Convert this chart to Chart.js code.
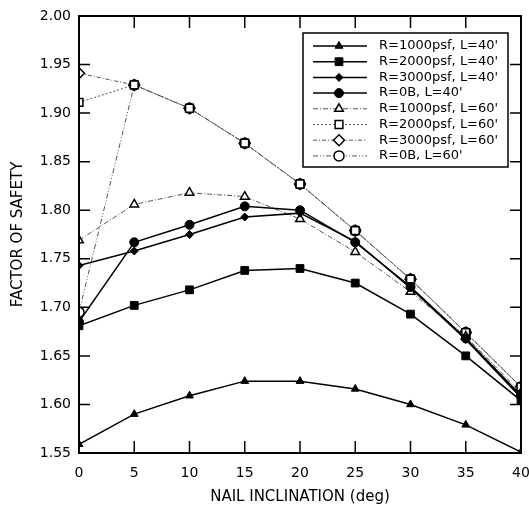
<!DOCTYPE html>
<html>
<head>
<meta charset="utf-8">
<script src="https://cdn.jsdelivr.net/npm/chart.js@4/dist/chart.umd.min.js"></script>
<style>
  html, body { margin: 0; padding: 0; background: #fff; }
  #wrap { width: 529px; height: 509px; position: relative; }
</style>
</head>
<body>
<div id="wrap"><canvas id="chartFS"></canvas></div>
<script>
// Nail inclination (deg) on x, factor of safety on y
const inclination = [0, 5, 10, 15, 20, 25, 30, 35, 40];
const yTicks = [1.55, 1.60, 1.65, 1.70, 1.75, 1.80, 1.85, 1.90, 1.95, 2.00];

const r1000L40 = [1.559, 1.590, 1.609, 1.624, 1.624, 1.616, 1.600, 1.579, 1.551];
const r2000L40 = [1.681, 1.702, 1.718, 1.738, 1.740, 1.725, 1.693, 1.650, 1.604];
const r3000L40 = [1.743, 1.758, 1.775, 1.793, 1.797, 1.768, 1.720, 1.667, 1.607];
const r0BL40   = [1.685, 1.767, 1.785, 1.804, 1.800, 1.767, 1.721, 1.668, 1.609];
const r1000L60 = [1.769, 1.806, 1.818, 1.814, 1.791, 1.757, 1.716, 1.670, 1.612];
const r2000L60 = [1.911, 1.929, 1.905, 1.869, 1.827, 1.779, 1.729, 1.674, 1.618];
const r3000L60 = [1.941, 1.929, 1.905, 1.869, 1.827, 1.779, 1.729, 1.674, 1.618];
const r0BL60   = [1.695, 1.929, 1.905, 1.869, 1.827, 1.779, 1.729, 1.674, 1.618];

const seriesLabels = [
    "R=1000psf, L=40'", "R=2000psf, L=40'", "R=3000psf, L=40'", "R=0B, L=40'",
    "R=1000psf, L=60'", "R=2000psf, L=60'", "R=3000psf, L=60'", "R=0B, L=60'"
];

const FONT = "'DejaVu Sans', sans-serif";

const toXY = vals => vals.map((v, i) => ({ x: inclination[i], y: v }));

function solid(label, vals, style, radius) {
    return {
        label: label, data: toXY(vals),
        borderColor: '#000', borderWidth: 1.5,
        pointStyle: style, pointRadius: radius,
        pointBackgroundColor: '#000', pointBorderColor: '#000', pointBorderWidth: 1,
        tension: 0
    };
}
function dashed(label, vals, style, radius, dash) {
    return {
        label: label, data: toXY(vals),
        borderColor: '#555', borderWidth: 1, borderDash: dash,
        pointStyle: style, pointRadius: radius,
        pointBackgroundColor: '#fff', pointBorderColor: '#000', pointBorderWidth: 1.5,
        tension: 0
    };
}

const datasets = [
    solid(seriesLabels[0], r1000L40, 'triangle', 4.5),
    solid(seriesLabels[1], r2000L40, 'rect', 5.5),
    solid(seriesLabels[2], r3000L40, 'rectRot', 4),
    solid(seriesLabels[3], r0BL40, 'circle', 4.5),
    dashed(seriesLabels[4], r1000L60, 'triangle', 5, [5, 2, 1, 2]),
    dashed(seriesLabels[5], r2000L60, 'rect', 5.5, [2, 2]),
    dashed(seriesLabels[6], r3000L60, 'rectRot', 5.5, [4, 2, 1, 2]),
    dashed(seriesLabels[7], r0BL60, 'circle', 5, [5, 2, 1, 2, 1, 2])
];

// frame + inward tick marks on all four sides
const framePlugin = {
    id: 'frame',
    afterDatasetsDraw(chart) {
        const { ctx, chartArea: a, scales } = chart;
        ctx.save();
        ctx.strokeStyle = '#000';
        ctx.lineWidth = 2;
        ctx.strokeRect(a.left, a.top, a.right - a.left, a.bottom - a.top);
        ctx.lineWidth = 1.5;
        ctx.beginPath();
        yTicks.forEach(v => {
            const y = scales.y.getPixelForValue(v);
            ctx.moveTo(a.left, y); ctx.lineTo(a.left + 11, y);
            ctx.moveTo(a.right, y); ctx.lineTo(a.right - 11, y);
        });
        inclination.forEach(v => {
            const x = scales.x.getPixelForValue(v);
            ctx.moveTo(x, a.bottom); ctx.lineTo(x, a.bottom - 12);
            ctx.moveTo(x, a.top); ctx.lineTo(x, a.top + 12);
        });
        ctx.stroke();
        ctx.restore();
    }
};

// legend box with line sample + marker, drawn inside the plot
const legendPlugin = {
    id: 'boxLegend',
    afterDraw(chart) {
        const ctx = chart.ctx;
        const box = { x: 303, y: 33, w: 205, h: 134 };
        ctx.save();
        ctx.fillStyle = '#fff';
        ctx.fillRect(box.x, box.y, box.w, box.h);
        ctx.strokeStyle = '#000';
        ctx.lineWidth = 1.5;
        ctx.strokeRect(box.x, box.y, box.w, box.h);
        ctx.font = '13px ' + FONT;
        ctx.textBaseline = 'middle';
        chart.data.datasets.forEach((ds, i) => {
            const y = 46 + i * 15.7;
            ctx.save();
            ctx.strokeStyle = ds.borderColor;
            ctx.lineWidth = ds.borderWidth;
            ctx.setLineDash(ds.borderDash || []);
            ctx.beginPath();
            ctx.moveTo(313, y); ctx.lineTo(367, y);
            ctx.stroke();
            ctx.setLineDash([]);
            ctx.fillStyle = ds.pointBackgroundColor;
            ctx.strokeStyle = ds.pointBorderColor;
            ctx.lineWidth = ds.pointBorderWidth;
            Chart.helpers.drawPoint(ctx, {
                pointStyle: ds.pointStyle, radius: ds.pointRadius, rotation: 0,
                borderWidth: ds.pointBorderWidth
            }, 339, y);
            ctx.restore();
            ctx.fillStyle = '#000';
            ctx.fillText(ds.label, 379, y);
        });
        ctx.restore();
    }
};

new Chart(document.getElementById('chartFS'), {
    type: 'line',
    data: { datasets: datasets },
    options: {
        responsive: true,
        maintainAspectRatio: false,
        animation: false,
        layout: { padding: { top: 16, right: 8, left: 0, bottom: 0 } },
        plugins: { legend: { display: false }, tooltip: { enabled: false } },
        scales: {
            x: {
                type: 'linear', min: 0, max: 40,
                afterBuildTicks: s => { s.ticks = inclination.map(v => ({ value: v })); },
                grid: { display: false, drawTicks: false },
                border: { display: false },
                ticks: { color: '#000', padding: 12, maxRotation: 0, font: { family: FONT, size: 14 } },
                title: {
                    display: true, text: 'NAIL INCLINATION (deg)', color: '#000',
                    font: { family: FONT, size: 15, lineHeight: 1.2 }, padding: { bottom: 3, top: 0 }
                },
                afterFit: s => { s.height = 56; s.paddingRight = 0; s.paddingLeft = 0; }
            },
            y: {
                type: 'linear', min: 1.55, max: 2.00,
                afterBuildTicks: s => { s.ticks = yTicks.map(v => ({ value: v })); },
                grid: { display: false, drawTicks: false },
                border: { display: false },
                ticks: { color: '#000', padding: 8, font: { family: FONT, size: 14 },
                         callback: v => Number(v).toFixed(2) },
                title: {
                    display: true, text: 'FACTOR OF SAFETY', color: '#000',
                    font: { family: FONT, size: 15, lineHeight: 1.2 }, padding: { top: 9, bottom: 0 }
                },
                afterFit: s => { s.width = 79; s.paddingTop = 0; s.paddingBottom = 0; }
            }
        }
    },
    plugins: [framePlugin, legendPlugin]
});
</script>
</body>
</html>
